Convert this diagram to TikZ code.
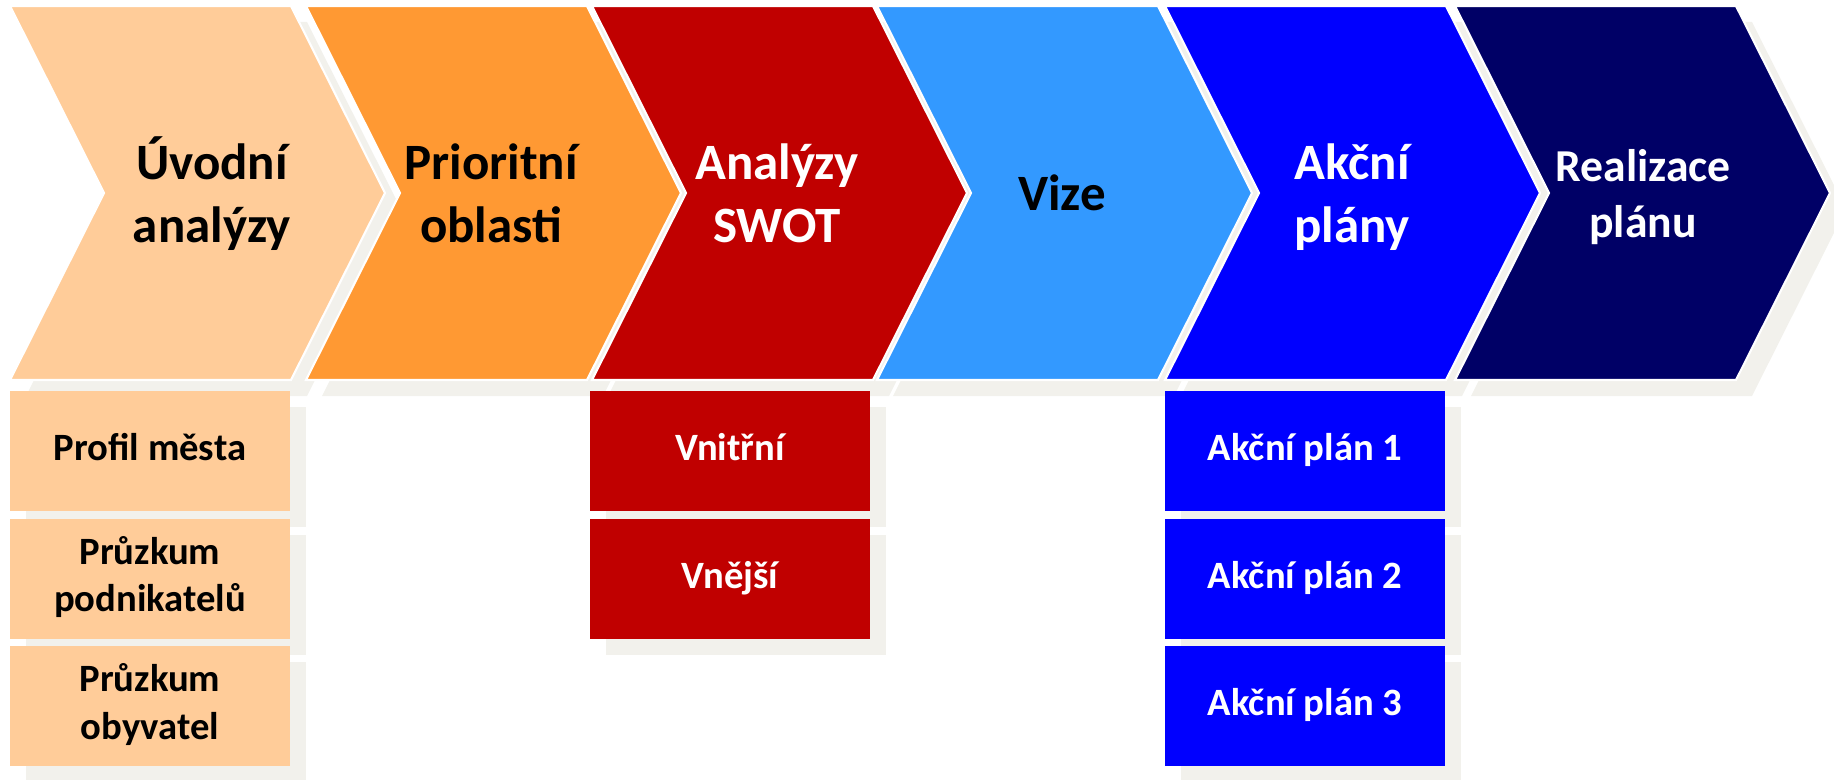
\documentclass[tikz,border=0pt]{standalone}
\usepackage{fontspec}
\setmainfont{Carlito}
\usetikzlibrary{shadows}
\definecolor{peach}{HTML}{FFCC99}
\definecolor{tangerine}{HTML}{FF9933}
\definecolor{swotred}{HTML}{C00000}
\definecolor{skyblue}{HTML}{3399FF}
\definecolor{planblue}{HTML}{0000FF}
\definecolor{navyblue}{HTML}{000066}
\definecolor{shadowgray}{HTML}{F2F1EC}

\begin{document}
\begin{tikzpicture}[
    gshadow/.style={drop shadow={shadow xshift=0.16cm, shadow yshift=-0.16cm, fill=shadowgray, opacity=1}},
    lbl/.style={font=\bfseries\fontsize{14.5}{17.9}\selectfont, align=center, inner sep=0pt},
    sub/.style={gshadow, minimum width=2.8cm, minimum height=1.2cm, inner sep=0pt,
                font=\bfseries\fontsize{11}{13.6}\selectfont, align=center}
  ]
  \useasboundingbox (0,0) rectangle (18.34,7.79);
  % chevrons
  \foreach \x/\c in {0.10/peach, 3.06/tangerine, 5.92/swotred, 8.77/skyblue, 11.65/planblue, 14.55/navyblue}
    \filldraw[fill=\c, draw=white, line width=0.6pt, gshadow, shift={(\x,0)}]
      (0,7.73) -- ++(2.81,0) -- ++(0.94,-1.87) -- ++(-0.94,-1.87) -- ++(-2.81,0) -- ++(0.94,1.87) -- cycle;
  \node[lbl] (uvod) at (2.12,5.81) {Úvodní\strut\\analýzy\strut};
  \node[lbl] (prior) at (4.91,5.81) {Prioritní\strut\\oblasti\strut};
  \node[lbl, text=white] (swot) at (7.77,5.81) {Analýzy\strut\\SWOT\strut};
  \node[lbl] (vize) at (10.62,5.81) {Vize\strut};
  \node[lbl, text=white] (akce) at (13.52,5.81) {Akční\strut\\plány\strut};
  \node[lbl, text=white, font=\bfseries\fontsize{13}{15.9}\selectfont] (real) at (16.43,5.81) {Realizace\strut\\plánu\strut};
  % boxes below
  \node[sub, fill=peach] (profil) at (1.50,3.28) {Profil města\strut};
  \node[sub, fill=peach] (podnik) at (1.50,2.005) {Průzkum\strut\\podnikatelů\strut};
  \node[sub, fill=peach] (obyv) at (1.50,0.73) {Průzkum\strut\\obyvatel\strut};
  \node[sub, fill=swotred, text=white] (vnitr) at (7.30,3.28) {Vnitřní\strut};
  \node[sub, fill=swotred, text=white] (vnejs) at (7.30,2.005) {Vnější\strut};
  \node[sub, fill=planblue, text=white] (plan1) at (13.05,3.28) {Akční plán 1\strut};
  \node[sub, fill=planblue, text=white] (plan2) at (13.05,2.005) {Akční plán 2\strut};
  \node[sub, fill=planblue, text=white] (plan3) at (13.05,0.73) {Akční plán 3\strut};
\end{tikzpicture}
\end{document}
